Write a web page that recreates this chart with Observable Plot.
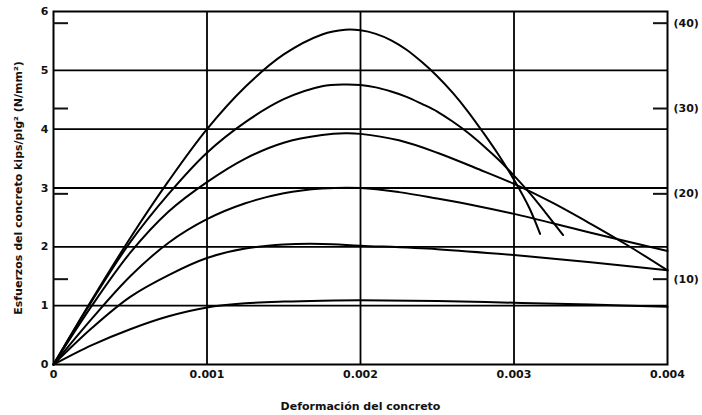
<!DOCTYPE html>
<html>
<head>
<meta charset="utf-8">
<script src="https://cdn.jsdelivr.net/npm/d3@7"></script>
<script src="https://cdn.jsdelivr.net/npm/@observablehq/plot@0.6"></script>
<style>
  html, body { margin: 0; padding: 0; background: #fff; }
  svg { display: block; }
</style>
</head>
<body>
<div id="chart"></div>
<script>
// Tick values
const xTicks = [0, 0.001, 0.002, 0.003, 0.004];
const yTicks = [0, 1, 2, 3, 4, 5, 6];
const xGrid = [0.001, 0.002, 0.003];
const yGrid = [1, 2, 3, 4, 5];
const nmmTicks = [10, 20, 30, 40];           // N/mm² secondary scale
const KSI_PER_NMM = 1 / 6.895;               // 1 N/mm² in kips/plg²

// Stress–strain curves [strain, stress (kips/plg²)]
const curve1 = [[0,0],[0.00025,0.33],[0.0005,0.6],[0.00075,0.82],[0.001,0.97],[0.00125,1.04],[0.0015,1.07],[0.00175,1.085],[0.002,1.09],[0.0025,1.08],[0.003,1.05],[0.0035,1.02],[0.004,0.98]];
const curve2 = [[0,0],[0.00025,0.62],[0.0005,1.15],[0.00075,1.52],[0.001,1.81],[0.00125,1.97],[0.0015,2.04],[0.00175,2.05],[0.002,2.02],[0.0025,1.96],[0.003,1.86],[0.0035,1.74],[0.004,1.6]];
const curve3 = [[0,0],[0.00025,0.78],[0.0005,1.5],[0.00075,2.07],[0.001,2.47],[0.00125,2.74],[0.0015,2.91],[0.00175,2.99],[0.002,3.0],[0.00225,2.93],[0.0025,2.82],[0.00275,2.7],[0.003,2.56],[0.0035,2.24],[0.004,1.93]];
const curve4 = [[0,0],[0.00025,1.0],[0.0005,1.9],[0.00075,2.6],[0.001,3.1],[0.00125,3.5],[0.0015,3.77],[0.00175,3.9],[0.0019,3.93],[0.002,3.92],[0.00225,3.81],[0.0025,3.6],[0.00275,3.34],[0.003,3.07],[0.00325,2.75],[0.0035,2.39],[0.00375,2.01],[0.004,1.6]];
const curve5 = [[0,0],[0.00025,1.08],[0.0005,2.08],[0.00075,2.9],[0.001,3.6],[0.00125,4.12],[0.0015,4.51],[0.00175,4.73],[0.0019,4.76],[0.002,4.75],[0.0021,4.71],[0.0022,4.64],[0.0023,4.55],[0.0024,4.43],[0.0025,4.3],[0.0026,4.13],[0.0027,3.94],[0.0028,3.72],[0.0029,3.48],[0.003,3.21],[0.0031,2.92],[0.0032,2.6],[0.00332,2.2]];
const curve6 = [[0,0],[0.00025,1.1],[0.0005,2.15],[0.00075,3.12],[0.001,4.0],[0.00125,4.72],[0.0015,5.27],[0.00175,5.61],[0.0019,5.69],[0.002,5.68],[0.0021,5.62],[0.0022,5.51],[0.0023,5.35],[0.0024,5.14],[0.0025,4.9],[0.0026,4.62],[0.0027,4.3],[0.0028,3.94],[0.0029,3.56],[0.003,3.14],[0.0031,2.66],[0.00317,2.22]];

const curves = [curve1, curve2, curve3, curve4, curve5, curve6];
const rows = curves.flatMap((c, i) => c.map(([x, y]) => ({curve: i, x, y})));
const nmmPos = nmmTicks.map(d => d * KSI_PER_NMM);

const chart = Plot.plot({
  width: 702,
  height: 415,
  marginLeft: 53,
  marginRight: 35,
  marginTop: 11,
  marginBottom: 51,
  style: {fontFamily: "DejaVu Sans", fontSize: "11px", fontWeight: "bold", color: "#111", background: "#fff"},
  x: {domain: [0, 0.004]},
  y: {domain: [0, 6]},
  marks: [
    Plot.gridX(xGrid, {stroke: "#000", strokeOpacity: 1, strokeWidth: 1.8}),
    Plot.gridY(yGrid, {stroke: "#000", strokeOpacity: 1, strokeWidth: 1.8}),
    Plot.line(rows, {x: "x", y: "y", z: "curve", curve: "catmull-rom", stroke: "#000", strokeWidth: 2}),
    Plot.frame({stroke: "#000", strokeWidth: 2}),
    Plot.axisX({ticks: xTicks, tickSize: 0, tickPadding: 6,
      tickFormat: d => d === 0 ? "0" : d.toFixed(3),
      label: "Deformación del concreto", labelAnchor: "center", labelArrow: "none", labelOffset: 45}),
    Plot.axisY({ticks: yTicks, tickSize: 0, tickPadding: 5, tickFormat: d => String(d),
      label: "Esfuerzos del concreto kips/plg² (N/mm²)", labelAnchor: "center", labelArrow: "none", labelOffset: 39}),
    Plot.axisY({anchor: "left", ticks: nmmPos, tickSize: 15, dx: 15, strokeWidth: 2, tickFormat: () => "", label: null}),
    Plot.axisY({anchor: "right", ticks: nmmPos, tickSize: 15, dx: -15, strokeWidth: 2, tickFormat: () => "", label: null}),
    Plot.axisY({anchor: "right", ticks: nmmPos, tickSize: 0, tickPadding: 6,
      tickFormat: d => `(${Math.round(d / KSI_PER_NMM)})`, label: null})
  ]
});
document.getElementById("chart").append(chart);
</script>
</body>
</html>
